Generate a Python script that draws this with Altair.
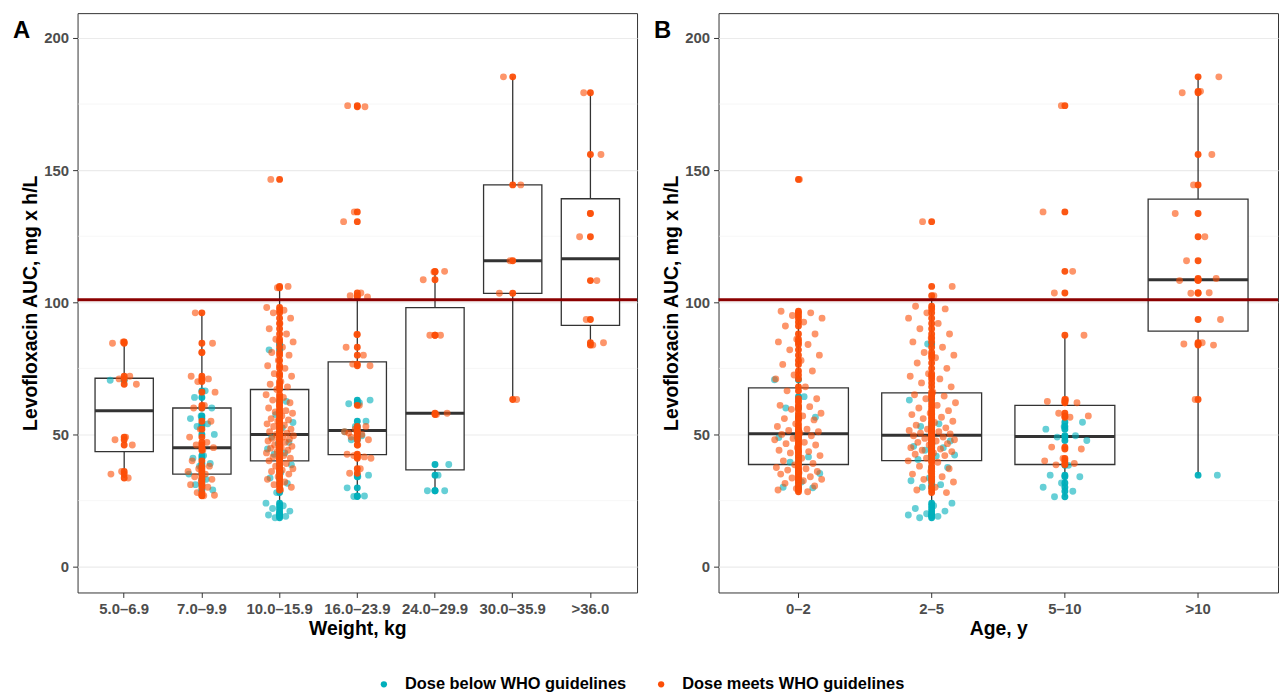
import altair as alt
import pandas as pd

# ---------------- data ----------------
WEIGHT_CATS = ["5.0–6.9", "7.0–9.9", "10.0–15.9", "16.0–23.9", "24.0–29.9", "30.0–35.9", ">36.0"]
AGE_CATS = ["0–2", "2–5", "5–10", ">10"]

WEIGHT_BELOW = {
    "5.0–6.9": [70.5],
    "7.0–9.9": [66.5, 64, 60, 57, 56, 54, 53, 50, 42, 41, 39, 38, 35, 33, 31, 29],
    "10.0–15.9": [84, 82, 62.5, 57.5, 54.5, 52.5, 49, 47, 46.5, 44.5, 43, 42.5, 38.5, 35.5,
                  33.5, 31.5, 28, 24, 23, 22, 21, 20, 19.5, 19, 18.5],
    "16.0–23.9": [63, 62, 61.6, 55, 53, 51, 49.5, 48, 34.6, 34, 29.8, 26.7, 26.5],
    "24.0–29.9": [38.6, 34.6, 28.7, 28.7],
    "30.0–35.9": [],
    ">36.0": [],
}
WEIGHT_MEETS = {
    "5.0–6.9": [85, 84.5, 72, 71, 69, 49, 48, 46, 36, 35, 33.5],
    "7.0–9.9": [96, 84.5, 81, 72, 71, 70, 66, 61, 60, 55, 52, 49, 47, 46, 45, 44, 40, 38, 37,
                36, 35, 34, 33, 32, 31, 30, 28, 27, 26.8],
    "10.0–15.9": [146.5, 106, 105.5, 98, 97, 96, 94, 92, 90, 88, 86, 85, 83, 81, 80, 78, 76, 75,
                  73, 72, 70, 69, 68, 67, 65, 64, 63, 62, 61, 60, 59, 58.5, 58, 57, 56, 55.5,
                  55, 54, 53.5, 53, 52, 51.5, 51, 50.5, 50, 49.5, 49, 48.5, 48.2, 48, 47.5, 47,
                  46, 45.5, 45, 44.8, 44, 43.5, 43, 42, 41.5, 41, 40.5, 40, 39, 38, 37, 36.5,
                  36, 35, 34, 33, 32, 31, 30, 29],
    "16.0–23.9": [174.4, 174, 134.2, 130.5, 103.5, 102.5, 102, 87.8, 83, 80, 76.6, 76, 61,
                  50.5, 53, 52, 51, 50, 49, 48, 46, 42.5, 41.5, 42, 41, 37, 35.3],
    "24.0–29.9": [111.7, 111.5, 108.5, 87.5, 87.5, 58, 57.5],
    "30.0–35.9": [185.3, 144.4, 115.7, 103.4, 63.2],
    ">36.0": [179.3, 155.9, 133.6, 124.8, 108.2, 93.5, 84.7, 83.8],
}
AGE_BELOW = {
    "0–2": [70.7, 64.3, 60, 56.5, 49, 48.8, 41.5, 39.5, 35.2, 32, 30, 29.8],
    "2–5": [84.2, 63, 54, 53, 47.5, 46.5, 45.5, 45, 44, 42.2, 41.8, 40.5, 37.5, 33.5, 32.5,
            31, 30, 24, 23, 22, 21, 20, 19.5, 19, 18.5],
    "5–10": [54.6, 53, 52, 49.5, 49, 47.7, 38.3, 34.6, 34, 31.6, 30, 28.5, 26.4],
    ">10": [34.6],
}
AGE_MEETS = {
    "0–2": [146.5, 96.6, 96, 95, 94, 92.5, 91, 88, 86, 85, 84, 82, 80, 78, 76.5, 74, 72.5, 71,
            68, 66.5, 63.5, 62.5, 61, 60.5, 59.5, 58, 57, 56, 55.5, 54, 53, 52, 51.5, 51,
            50.5, 50, 49.5, 48.5, 48, 47, 46.5, 46, 45, 44, 43.5, 43, 42, 41, 40, 39, 38.5,
            37.5, 37, 36.5, 36, 35.5, 35, 34, 33.5, 33, 32.5, 31.5, 30.5, 29.5, 29, 28.3],
    "2–5": [130.5, 106, 102.5, 98.5, 97.5, 96, 94, 92, 90, 88, 86.5, 85, 83, 81, 80, 79, 77,
            75, 73, 72, 71, 69.5, 68, 66, 65, 64.5, 63.5, 62, 61, 60, 59, 58, 57.5, 56.5, 56,
            55, 54.5, 53.5, 52.5, 52, 51.5, 51, 50.5, 50.2, 49.8, 49.5, 49, 48.5, 48, 47.5,
            47, 46.5, 46, 45, 44.5, 44, 43.5, 43, 42.5, 42, 41, 40, 39.5, 38, 37, 36, 35, 34,
            33, 32, 30, 29, 28],
    "5–10": [174.4, 134.2, 111.7, 103.5, 87.5, 63.2, 62.5, 62, 58, 57, 56.5, 45.2, 44.5, 40.9,
             40, 39, 38.5],
    ">10": [185.3, 179.8, 179.3, 155.9, 144.4, 133.6, 124.8, 115.7, 109, 108.5, 108.2, 103.6,
            103.4, 93.5, 84.7, 84.2, 83.8, 63.2],
}

WHO_TARGET = [101]
PANEL_TAGS = ["A", "B"]
X_TITLES = ["Weight, kg", "Age, y"]
Y_TITLE = "Levofloxacin AUC, mg x h/L"
DOSE_LABELS = ["Dose below WHO guidelines", "Dose meets WHO guidelines"]
DOSE_COLORS = ["#00AFBB", "#FC4E07"]
Y_TICKS = [0, 25, 50, 75, 100, 125, 150, 175, 200]

FONT = "Liberation Sans"


def build_frame(cats, below, meets):
    rows = []
    for c in cats:
        for v in below.get(c, []):
            rows.append({"cat": c, "auc": v, "dose": DOSE_LABELS[0]})
    for c in cats:
        for v in meets.get(c, []):
            rows.append({"cat": c, "auc": v, "dose": DOSE_LABELS[1]})
    df = pd.DataFrame(rows)
    df["i"] = range(len(df))
    return df


def panel(df, cats, tag, xtitle, width, height, legend_x):
    step = width / (len(cats) + 0.2)
    jw = 0.18 * step
    xscale = alt.Scale(domain=cats, paddingInner=0, paddingOuter=0.1)
    x = alt.X(
        "cat:N", scale=xscale, sort=cats, title=xtitle,
        axis=alt.Axis(bandPosition=0.5, labelAngle=0, titlePadding=3),
    )
    y = alt.Y(
        "auc:Q",
        scale=alt.Scale(domain=[-9.8, 209.4], nice=False, zero=False),
        title=Y_TITLE,
        axis=alt.Axis(
            values=Y_TICKS,
            labelExpr="datum.value % 50 == 0 ? datum.label : ''",
            tickColor={"condition": {"test": "datum.value % 50 != 0", "value": "transparent"},
                       "value": "#333333"},
            gridColor={"condition": {"test": "datum.value % 50 != 0", "value": "#F2F2F2"},
                       "value": "#EBEBEB"},
            gridWidth={"condition": {"test": "datum.value % 50 != 0", "value": 0.6},
                       "value": 1.1},
            titlePadding=3,
        ),
    )
    color = alt.Color(
        "dose:N",
        scale=alt.Scale(domain=DOSE_LABELS, range=DOSE_COLORS),
        legend=alt.Legend(
            title=None, orient="none", direction="horizontal",
            legendX=legend_x, legendY=667,
            symbolType="circle", symbolSize=40, symbolOpacity=1, symbolStrokeWidth=0,
            labelFont=FONT, labelFontSize=16.5, labelFontWeight="bold", labelColor="#000000",
            labelOffset=13, columnPadding=26, labelLimit=500,
        ),
    )
    base = alt.Chart(df)
    box = base.mark_boxplot(
        extent=1.5, outliers=False, size=0.75 * step,
        box={"fill": "white", "stroke": "#333333", "strokeWidth": 1.3},
        median={"color": "#333333", "thickness": 3, "opacity": 1},
        rule={"color": "#333333", "strokeWidth": 1.3},
    ).encode(x=x, y=y)
    jit = base.transform_calculate(
        jit="((datum.i * 0.6180339887) % 1) * 2 - 1"
    ).mark_circle(size=48, opacity=0.6).encode(
        x=x, y=y, color=color,
        xOffset=alt.XOffset(
            "jit:Q",
            scale=alt.Scale(domain=[-1, 1], range=[0.5 * step - jw, 0.5 * step + jw]),
        ),
    )
    center = base.mark_circle(size=48, opacity=0.95).encode(x=x, y=y, color=color)
    rule = alt.Chart(pd.DataFrame({"auc": WHO_TARGET})).mark_rule(
        color="#8B0000", strokeWidth=3
    ).encode(y=alt.Y("auc:Q"))
    tagtxt = alt.Chart(pd.DataFrame({"tag": [tag]})).mark_text(
        font=FONT, fontSize=24, fontWeight="bold", color="#000000", align="left",
        baseline="alphabetic",
    ).encode(text="tag:N", x=alt.value(-65), y=alt.value(25))
    return alt.layer(box, jit, center, rule, tagtxt).properties(width=width, height=height)


df_w = build_frame(WEIGHT_CATS, WEIGHT_BELOW, WEIGHT_MEETS)
df_a = build_frame(AGE_CATS, AGE_BELOW, AGE_MEETS)

pA = panel(df_w, WEIGHT_CATS, PANEL_TAGS[0], X_TITLES[0], 563, 583, 300)
pB = panel(df_a, AGE_CATS, PANEL_TAGS[1], X_TITLES[1], 563, 583, 300)

chart = alt.hconcat(pA, pB, spacing=14).resolve_scale(
    xOffset="independent", x="independent", y="independent"
).properties(
    padding={"left": 4, "top": 2, "right": 0, "bottom": 0}
).configure(
    font=FONT
).configure_view(
    stroke="#333333", strokeWidth=1
).configure_axis(
    labelFont=FONT, labelFontSize=15, labelFontWeight="bold", labelColor="#4D4D4D",
    titleFont=FONT, titleFontSize=19.5, titleFontWeight="bold", titleColor="#000000",
    tickColor="#333333", tickSize=5, tickWidth=1, labelPadding=4,
    domain=False, gridColor="#EBEBEB", gridWidth=1.1,
)

chart.save("out.html", embed_options={"renderer": "svg", "actions": False})
